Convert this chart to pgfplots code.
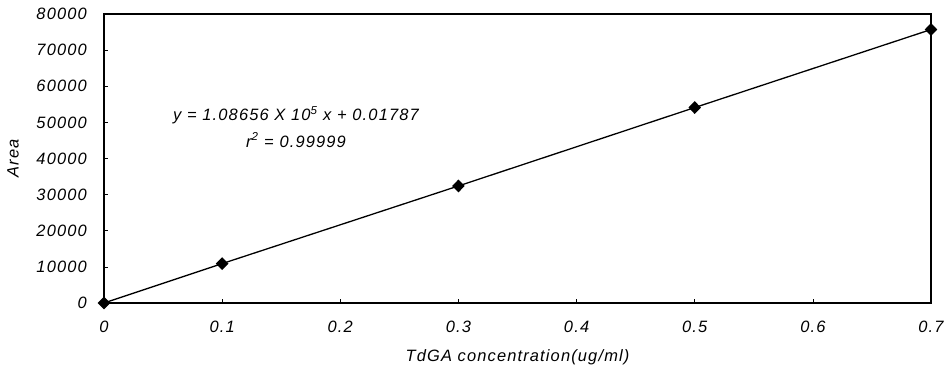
\documentclass[border=0pt]{standalone}
\usepackage{pgfplots}
\pgfplotsset{compat=1.18}
\usepackage{fontspec}
\setmainfont{Liberation Sans}
\newcommand\reffont{\fontsize{16.5}{20}\selectfont\itshape\addfontfeature{LetterSpace=7}}
\begin{document}
\begin{tikzpicture}
\useasboundingbox (-104bp,-66bp) rectangle (847bp,303bp);
\begin{axis}[
  anchor=south west, at={(0,0)},
  scale only axis,
  width=827bp, height=289bp,
  xmin=0, xmax=0.7, ymin=0, ymax=80000,
  xtick={0,0.1,0.2,0.3,0.4,0.5,0.6,0.7},
  ytick={0,10000,20000,30000,40000,50000,60000,70000,80000},
  xticklabels={0,0.1,0.2,0.3,0.4,0.5,0.6,0.7},
  yticklabels={0,10000,20000,30000,40000,50000,60000,70000,80000},
  tick pos=left, tick align=inside, major tick length=4bp,
  axis line style={line width=1.2pt},
  tick style={black, line width=0.6pt},
  ticklabel style={font=\reffont},
  xticklabel style={anchor=center, yshift=-24bp},
  yticklabel style={anchor=east, xshift=-17bp, inner xsep=0pt},
  xlabel={TdGA concentration(ug/ml)},
  ylabel={Area},
  label style={font=\reffont},
  xlabel style={at={(axis description cs:0.5,0)}, anchor=center, yshift=-54bp},
  ylabel style={at={(axis description cs:0,0.5)}, anchor=center, rotate=0, yshift=91bp},
  scaled ticks=false,
  clip=false,
]
\addplot[black, line width=1.3pt, mark=diamond*, mark size=5.5bp, mark options={fill=black, xscale=1.3}]
  coordinates {(0,0) (0.1,10900) (0.3,32400) (0.5,54100) (0.7,75700)};
\node[align=center, font=\fontsize{16.5}{27}\selectfont\itshape\addfontfeature{LetterSpace=7}] at (axis cs:0.1625,48800)
  {y = 1.08656 X 10\textsuperscript{5} x + 0.01787\\ r\textsuperscript{2} = 0.99999};
\end{axis}
\end{tikzpicture}
\end{document}
